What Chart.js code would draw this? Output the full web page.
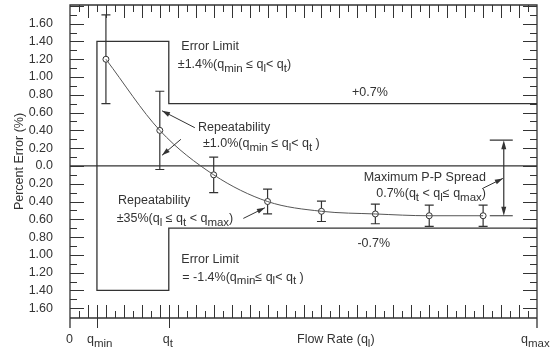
<!DOCTYPE html>
<html>
<head>
<meta charset="utf-8">
<script src="https://cdn.jsdelivr.net/npm/chart.js@4.4.1/dist/chart.umd.min.js"></script>
<style>
  html, body { margin: 0; padding: 0; background: #fff; }
</style>
</head>
<body>
<canvas id="chart" width="560" height="352"></canvas>
<script>
// test points (flow in axis units, error in %)
var flowX = [4, 10, 16, 22, 28, 34, 40, 46];
var errorPct = [1.2, 0.4, -0.1, -0.4, -0.51, -0.54, -0.56, -0.56];
var repeatErr = [0.5, 0.44, 0.2, 0.14, 0.115, 0.11, 0.12, 0.12];

// error limit outline (+0.7 / +-1.4 / -0.7)
var limitX = [52, 11, 11, 3, 3, 11, 11, 52];
var limitY = [0.7, 0.7, 1.4, 1.4, -1.4, -1.4, -0.7, -0.7];

var yTicks = [-1.6, -1.4, -1.2, -1.0, -0.8, -0.6, -0.4, -0.2, 0, 0.2, 0.4, 0.6, 0.8, 1.0, 1.2, 1.4, 1.6];
var qMin = 3, qT = 11, qMax = 52;

var FONT = '"Liberation Sans", Arial, sans-serif';
var INK = '#333';

// text notes, placed in data units
var notes = [
  { x: 12.4, y: 1.34, t: 'Error Limit' },
  { x: 12.0, y: 1.14, t: '±1.4%(q_{min} ≤ q_{l}< q_{t})' },
  { x: 31.4, y: 0.82, t: '+0.7%' },
  { x: 14.25, y: 0.43, t: 'Repeatability' },
  { x: 14.8, y: 0.25, t: '±1.0%(q_{min} ≤ q_{l}< q_{t} )' },
  { x: 5.35, y: -0.39, t: 'Repeatability' },
  { x: 5.2, y: -0.59, t: '±35%(q_{l} ≤ q_{t} < q_{max})' },
  { x: 32.7, y: -0.13, t: 'Maximum P-P Spread' },
  { x: 34.1, y: -0.31, t: '0.7%(q_{t} < q_{l}≤ q_{max})' },
  { x: 32.0, y: -0.87, t: '-0.7%' },
  { x: 12.4, y: -1.05, t: 'Error Limit' },
  { x: 12.5, y: -1.25, t: '= -1.4%(q_{min}≤ q_{l}< q_{t} )' }
];

// leader arrows [from, to], head at "to"
var leaders = [
  [[13.9, 0.43], [10.25, 0.62]],
  [[12.35, 0.3], [10.25, 0.12]],
  [[19.3, -0.59], [21.7, -0.47]],
  [[46.0, -0.25], [48.2, -0.14]]
];
var spreadX = 48.3, spreadTop = 0.29, spreadBottom = -0.56;

var xLabels = [
  { v: 0, t: '0', dx: -4 },
  { v: qMin, t: 'q_{min}', dx: -10 },
  { v: qT, t: 'q_{t}', dx: -6 },
  { v: qMax, t: 'q_{max}', dx: -16 }
];

function drawRich(ctx, str, x, y, size) {
  var parts = str.split(/(_\{[^}]*\})/);
  var cx = x;
  ctx.textAlign = 'left';
  ctx.textBaseline = 'middle';
  parts.forEach(function (p) {
    if (!p) return;
    var sub = p.charAt(0) === '_';
    var t = sub ? p.slice(2, -1) : p;
    ctx.font = (sub ? size * 0.92 : size) + 'px ' + FONT;
    ctx.fillText(t, cx, sub ? y + 4 : y);
    cx += ctx.measureText(t).width;
  });
}

function arrowHead(ctx, x1, y1, x2, y2, len, w) {
  var a = Math.atan2(y2 - y1, x2 - x1);
  ctx.beginPath();
  ctx.moveTo(x2, y2);
  ctx.lineTo(x2 - len * Math.cos(a) + w * Math.sin(a), y2 - len * Math.sin(a) - w * Math.cos(a));
  ctx.lineTo(x2 - len * Math.cos(a) - w * Math.sin(a), y2 - len * Math.sin(a) + w * Math.cos(a));
  ctx.closePath();
  ctx.fill();
}

var decor = {
  id: 'decor',
  beforeDatasetsDraw: function (chart) {
    var ctx = chart.ctx, sx = chart.scales.x, sy = chart.scales.y;
    ctx.save();
    ctx.strokeStyle = INK;
    ctx.lineWidth = 1.2;
    for (var i = 0; i < flowX.length; i++) {
      var px = sx.getPixelForValue(flowX[i]);
      var t = sy.getPixelForValue(errorPct[i] + repeatErr[i]);
      var b = sy.getPixelForValue(errorPct[i] - repeatErr[i]);
      ctx.beginPath();
      ctx.moveTo(px, t); ctx.lineTo(px, b);
      ctx.moveTo(px - 4.5, t); ctx.lineTo(px + 4.5, t);
      ctx.moveTo(px - 4.5, b); ctx.lineTo(px + 4.5, b);
      ctx.stroke();
    }
    ctx.restore();
  },
  afterDraw: function (chart) {
    var ctx = chart.ctx, sx = chart.scales.x, sy = chart.scales.y;
    var a = chart.chartArea;
    ctx.save();
    ctx.strokeStyle = INK;
    ctx.fillStyle = INK;
    ctx.lineWidth = 1.3;

    // frame
    ctx.beginPath();
    ctx.moveTo(a.left, a.bottom + 10); ctx.lineTo(a.left, a.top); ctx.lineTo(a.right, a.top); ctx.lineTo(a.right, a.bottom + 10);
    ctx.moveTo(a.left, a.bottom); ctx.lineTo(a.right, a.bottom);
    ctx.stroke();

    // x ticks, top and bottom
    ctx.lineWidth = 1;
    ctx.beginPath();
    for (var k = 1; k < qMax; k++) {
      var px = Math.round(sx.getPixelForValue(k)) + 0.5;
      var len = k % 2 === 0 ? 13 : 7;
      ctx.moveTo(px, a.bottom); ctx.lineTo(px, a.bottom - len);
      ctx.moveTo(px, a.top); ctx.lineTo(px, a.top + len);
    }
    [qMin, qT].forEach(function (q) {
      var px = Math.round(sx.getPixelForValue(q)) + 0.5;
      ctx.moveTo(px, a.bottom - 13); ctx.lineTo(px, a.bottom + 10);
    });
    // y ticks, left and right
    for (var j = -17; j <= 18; j++) {
      var py = Math.round(sy.getPixelForValue(j / 10)) + 0.5;
      if (py <= a.top + 1 || py >= a.bottom - 1) continue;
      var l2 = j % 2 === 0 ? 14 : 7;
      ctx.moveTo(a.left, py); ctx.lineTo(a.left + l2, py);
      ctx.moveTo(a.right, py); ctx.lineTo(a.right - l2, py);
    }
    ctx.stroke();

    // x labels
    xLabels.forEach(function (l) {
      drawRich(ctx, l.t, sx.getPixelForValue(l.v) + l.dx, a.bottom + 22, 12.5);
    });
    drawRich(ctx, 'Flow Rate (q_{l})', 297, a.bottom + 22, 12.5);

    // notes
    notes.forEach(function (n) {
      drawRich(ctx, n.t, sx.getPixelForValue(n.x), sy.getPixelForValue(n.y), 12.5);
    });

    // leaders
    ctx.lineWidth = 1;
    leaders.forEach(function (L) {
      var x1 = sx.getPixelForValue(L[0][0]), y1 = sy.getPixelForValue(L[0][1]);
      var x2 = sx.getPixelForValue(L[1][0]), y2 = sy.getPixelForValue(L[1][1]);
      ctx.beginPath(); ctx.moveTo(x1, y1); ctx.lineTo(x2, y2); ctx.stroke();
      arrowHead(ctx, x1, y1, x2, y2, 8, 2.5);
    });

    // max P-P spread
    var xs = sx.getPixelForValue(spreadX);
    var yt = sy.getPixelForValue(spreadTop), yb = sy.getPixelForValue(spreadBottom);
    ctx.lineWidth = 1.2;
    ctx.beginPath();
    ctx.moveTo(xs - 14, yt); ctx.lineTo(xs + 9, yt);
    ctx.moveTo(xs - 14, yb); ctx.lineTo(xs + 9, yb);
    ctx.moveTo(xs, yt + 4); ctx.lineTo(xs, yb - 4);
    ctx.stroke();
    arrowHead(ctx, xs, yt + 20, xs, yt, 9, 2.5);
    arrowHead(ctx, xs, yb - 20, xs, yb, 9, 2.5);
    ctx.restore();
  }
};

var curvePts = flowX.map(function (x, i) { return { x: x, y: errorPct[i] }; });
var limitPts = limitX.map(function (x, i) { return { x: x, y: limitY[i] }; });

new Chart(document.getElementById('chart'), {
  type: 'scatter',
  data: {
    datasets: [
      {
        type: 'line', data: curvePts, borderColor: '#555', borderWidth: 1,
        pointRadius: 0, cubicInterpolationMode: 'monotone', fill: false
      },
      {
        type: 'line', data: limitPts, borderColor: INK, borderWidth: 1.3,
        pointRadius: 0, tension: 0, fill: false
      },
      {
        type: 'line', data: [{ x: 0, y: 0 }, { x: qMax, y: 0 }], borderColor: INK, borderWidth: 1.2,
        pointRadius: 0, fill: false
      },
      {
        data: curvePts, pointRadius: 3, pointBackgroundColor: '#fff',
        pointBorderColor: INK, pointBorderWidth: 1
      }
    ]
  },
  options: {
    responsive: false,
    animation: false,
    devicePixelRatio: 1,
    layout: { padding: { top: 5, right: 23, bottom: 34, left: 0 } },
    plugins: { legend: { display: false }, tooltip: { enabled: false } },
    scales: {
      x: { type: 'linear', display: false, min: 0, max: qMax },
      y: {
        min: -1.71, max: 1.81,
        grid: { display: false },
        border: { display: false },
        afterBuildTicks: function (s) { s.ticks = yTicks.map(function (v) { return { value: v }; }); },
        afterFit: function (s) { s.width = 70; s.paddingTop = 0; s.paddingBottom = 0; },
        ticks: {
          padding: 9, color: INK, font: { family: FONT, size: 12.5 },
          callback: function (v) { return v === 0 ? '0.0' : Math.abs(v).toFixed(2); }
        },
        title: {
          display: true, text: 'Percent Error (%)', color: INK,
          font: { family: FONT, size: 12.5 }, padding: { top: 12, bottom: 0 }
        }
      }
    }
  },
  plugins: [decor]
});
</script>
</body>
</html>
